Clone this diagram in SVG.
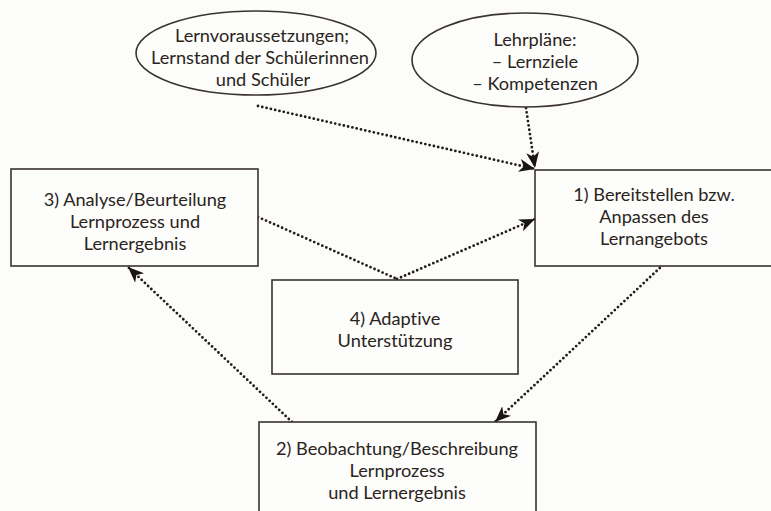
<svg xmlns="http://www.w3.org/2000/svg" width="771" height="511" viewBox="0 0 771 511">
<defs>
<style>
.box{fill:#fdfdfb;stroke:#3a3330;stroke-width:1.6}
.t{font-family:Lato,"Open Sans","Liberation Sans",sans-serif;font-size:18.2px;fill:#2a2420;text-anchor:middle;font-variant-ligatures:none}
.dot{fill:none;stroke:#221c1a;stroke-width:2.8;stroke-linecap:round;stroke-dasharray:0 4.4}
</style>
<marker id="ah" markerUnits="userSpaceOnUse" markerWidth="20" markerHeight="14" refX="16" refY="6.5" orient="auto">
<path d="M0,0 L16,6.5 L0,13 L4.5,6.5 Z" fill="#1a1412"/>
</marker>
</defs>
<rect width="771" height="511" fill="#fcfcfa"/>
<g id="connectors">
<path class="dot" d="M258,106 L535,169" marker-end="url(#ah)"/>
<path class="dot" d="M526,108 L535,168" marker-end="url(#ah)"/>
<path class="dot" d="M258,217 L397,279"/>
<path class="dot" d="M397,279 L535,219" marker-end="url(#ah)"/>
<path class="dot" d="M663,265 L495,422" marker-end="url(#ah)"/>
<path class="dot" d="M292,422 L128,267" marker-end="url(#ah)"/>
</g>
<g id="ellipse-lernvoraussetzungen">
<ellipse class="box" cx="256" cy="53" rx="120" ry="42"/>
<text class="t" x="262" y="42">Lernvoraussetzungen;</text>
<text class="t" x="260" y="64">Lernstand der Schülerinnen</text>
<text class="t" x="263" y="86">und Schüler</text>
</g>
<g id="ellipse-lehrplaene">
<ellipse class="box" cx="525" cy="60" rx="113" ry="47"/>
<text class="t" x="535" y="46">Lehrpläne:</text>
<text class="t" x="535" y="68">– Lernziele</text>
<text class="t" x="535" y="90">– Kompetenzen</text>
</g>
<g id="node3">
<rect class="box" x="11" y="169" width="247" height="97"/>
<text class="t" x="135" y="206">3) Analyse/Beurteilung</text>
<text class="t" x="135" y="228">Lernprozess und</text>
<text class="t" x="135" y="250">Lernergebnis</text>
</g>
<g id="node1">
<rect class="box" x="535" y="170" width="260" height="96"/>
<text class="t" x="654" y="201">1) Bereitstellen bzw.</text>
<text class="t" x="654" y="223">Anpassen des</text>
<text class="t" x="654" y="245">Lernangebots</text>
</g>
<g id="node4">
<rect class="box" x="272" y="280" width="246" height="94"/>
<text class="t" x="395" y="325">4) Adaptive</text>
<text class="t" x="395" y="347">Unterstützung</text>
</g>
<g id="node2">
<rect class="box" x="259" y="422" width="277" height="110"/>
<text class="t" x="397" y="455">2) Beobachtung/Beschreibung</text>
<text class="t" x="397" y="477">Lernprozess</text>
<text class="t" x="397" y="499">und Lernergebnis</text>
</g>
</svg>
